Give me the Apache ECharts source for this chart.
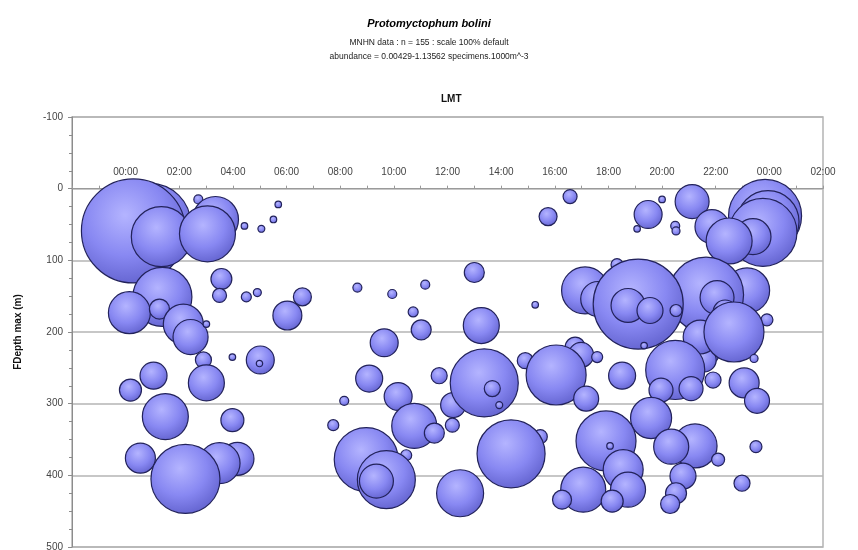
<!DOCTYPE html>
<html>
<head>
<meta charset="utf-8">
<script src="https://cdn.jsdelivr.net/npm/echarts@6/dist/echarts.min.js"></script>
<style>
html,body{margin:0;padding:0;background:#fff;}
#chart{width:858px;height:550px;}
</style>
</head>
<body>
<div id="chart"></div>
<script>
// Local mean time (hours, may exceed 24 to wrap past midnight)
const timeHours = [
  0.90,0.29,1.33,2.71,3.35,3.05,4.43,5.06,5.51,5.69,
  1.37,0.14,1.26,2.15,2.42,3.01,3.57,3.50,4.50,4.91,6.03,6.59,
  2.90,3.01,3.98,5.02,4.99,1.04,0.18,1.48,3.98,0.55,4.17,3.50,2.23,
  15.75,16.57,13.00,8.64,9.94,11.17,10.72,15.27,11.02,13.26,9.64,
  9.08,11.69,10.16,8.15,7.74,10.76,11.51,12.21,12.18,14.90,13.37,13.67,13.93,
  16.76,16.98,17.58,16.05,10.46,8.97,9.72,9.35,15.46,14.37,12.47,17.06,16.27,
  19.48,20.00,19.07,20.49,20.52,21.12,23.84,23.95,23.76,23.39,21.86,22.50,
  18.32,17.13,17.62,23.17,21.64,22.05,22.35,19.11,18.73,19.55,20.52,19.33,23.91,
  21.49,21.57,21.42,22.68,20.49,19.96,21.08,21.90,18.51,17.17,23.43,23.06,23.54,
  19.59,17.91,18.06,21.23,20.34,23.50,18.55,18.73,18.14,20.78,20.52,20.30,22.09,22.98
];
// Maximum depth of the haul (m)
const depthMax = [
  50,59,67,15,43,63,52,56,43,22,
  151,173,168,189,207,189,126,149,151,145,177,151,
  239,271,235,239,244,261,281,318,323,376,377,383,405,
  39,11,117,138,147,134,172,162,197,191,215,
  265,261,290,296,330,331,341,302,330,240,271,279,302,
  221,232,235,260,372,378,406,408,346,370,425,420,434,
  36,15,56,52,59,18,38,46,61,67,53,73,
  106,142,154,142,148,152,172,161,163,170,170,219,183,
  225,239,207,200,253,281,279,267,261,293,237,271,296,
  320,352,359,359,360,360,392,420,436,401,425,440,378,411
];
// Abundance (specimens.1000m^-3)
const abundance = [
  0.71,1.13562,0.378,0.0085,0.222,0.329,0.0045,0.005,0.0045,0.0045,
  0.366,0.185,0.042,0.168,0.129,0.0045,0.046,0.0206,0.0105,0.0067,0.088,0.034,
  0.027,0.136,0.0045,0.082,0.0043,0.0765,0.051,0.222,0.0555,0.0945,0.114,0.177,0.50,
  0.034,0.0206,0.042,0.0085,0.0085,0.0085,0.0105,0.0045,0.042,0.136,0.082,
  0.0765,0.027,0.082,0.0085,0.0127,0.213,0.042,0.0656,0.0206,0.027,0.486,0.027,0.005,
  0.042,0.0656,0.0127,0.378,0.0127,0.43,0.353,0.121,0.0206,0.486,0.232,0.213,0.038,
  0.082,0.0045,0.0045,0.0085,0.0067,0.121,0.56,0.404,0.486,0.136,0.121,0.222,
  0.0151,0.232,0.129,0.213,0.591,0.121,0.06,0.851,0.121,0.071,0.0151,0.0045,0.0151,
  0.136,0.0605,0.121,0.378,0.366,0.0605,0.0605,0.027,0.0765,0.0656,0.0067,0.0945,0.0656,
  0.177,0.378,0.0045,0.203,0.129,0.0151,0.168,0.129,0.051,0.071,0.0463,0.038,0.0177,0.027
];
const xTickHours = [0,2,4,6,8,10,12,14,16,18,20,22,24,26];
const yTicks = [-100,0,100,200,300,400,500];

const maxAbund = 1.13562;
const maxDiameter = 104;
const points = timeHours.map((h, i) => [h, depthMax[i], abundance[i]]);

function hhmm(v) {
  const h = ((Math.round(v) % 24) + 24) % 24;
  return (h < 10 ? '0' : '') + h + ':00';
}

const GRID_TOP = 117, GRID_BOTTOM = 3, H = 550;
const plotH = H - GRID_TOP - GRID_BOTTOM;
const yMin = yTicks[0], yMax = yTicks[yTicks.length - 1];
const zeroOffset = plotH * (0 - yMin) / (yMax - yMin);

const chart = echarts.init(document.getElementById('chart'), null, {renderer: 'canvas'});
const FONT = 'Liberation Sans, Arial, sans-serif';
chart.setOption({
  backgroundColor: '#ffffff',
  animation: false,
  title: [
    {
      text: 'Protomyctophum bolini',
      left: 'center', top: 13,
      textStyle: {fontFamily: FONT, fontSize: 11, fontWeight: 'bold', fontStyle: 'italic', color: '#000'}
    },
    {
      text: 'MNHN data : n = 155 : scale 100% default',
      left: 'center', top: 33,
      textStyle: {fontFamily: FONT, fontSize: 8.5, fontWeight: 'normal', color: '#222'}
    },
    {
      text: 'abundance = 0.00429-1.13562 specimens.1000m^-3',
      left: 'center', top: 47,
      textStyle: {fontFamily: FONT, fontSize: 8.5, fontWeight: 'normal', color: '#222'}
    },
    {
      text: 'LMT',
      left: 436, top: 89,
      textStyle: {fontFamily: FONT, fontSize: 10, fontWeight: 'bold', color: '#111'}
    }
  ],
  grid: {
    left: 72, right: 35, top: GRID_TOP, bottom: GRID_BOTTOM,
    show: true, borderColor: '#b4b4b4', borderWidth: 1.5,
    outerBoundsMode: 'none', containLabel: false
  },
  xAxis: {
    type: 'value',
    min: -2, max: 26, interval: 2,
    position: 'top',
    offset: -zeroOffset,
    axisLine: {show: true, onZero: false, lineStyle: {color: '#9a9a9a', width: 1.2}},
    axisTick: {show: true, inside: false, length: 3, lineStyle: {color: '#9a9a9a'}},
    minorTick: {show: true, splitNumber: 2, length: 3, lineStyle: {color: '#9a9a9a'}},
    axisLabel: {
      fontFamily: FONT, fontSize: 10, color: '#444', margin: 11,
      formatter: function (v) { return xTickHours.indexOf(v) >= 0 ? hhmm(v) : ''; }
    },
    splitLine: {show: false}
  },
  yAxis: {
    type: 'value',
    inverse: true,
    min: yMin, max: yMax, interval: 100,
    name: 'FDepth max (m)', nameLocation: 'middle', nameGap: 49, nameRotate: 90,
    nameTextStyle: {fontFamily: FONT, fontSize: 10, fontWeight: 'bold', color: '#111'},
    axisLine: {show: true, onZero: false, lineStyle: {color: '#8c8c8c', width: 1}},
    axisTick: {show: true, inside: false, length: 4, lineStyle: {color: '#8c8c8c'}},
    minorTick: {show: true, splitNumber: 4, length: 3, lineStyle: {color: '#8c8c8c'}},
    axisLabel: {fontFamily: FONT, fontSize: 10, color: '#444', margin: 9},
    splitLine: {show: true, lineStyle: {color: '#b4b4b4', width: 1.5}}
  },
  series: [{
    type: 'scatter',
    clip: false,
    data: points,
    symbol: 'circle',
    symbolSize: function (val) { return maxDiameter * Math.sqrt(val[2] / maxAbund); },
    itemStyle: {
      color: {
        type: 'radial', x: 0.42, y: 0.35, r: 0.7,
        colorStops: [
          {offset: 0, color: '#b4b4ff'},
          {offset: 0.55, color: '#8888f2'},
          {offset: 1, color: '#6060cc'}
        ]
      },
      borderColor: '#22225a',
      borderWidth: 1.2,
      opacity: 1
    }
  }]
});
</script>
</body>
</html>
